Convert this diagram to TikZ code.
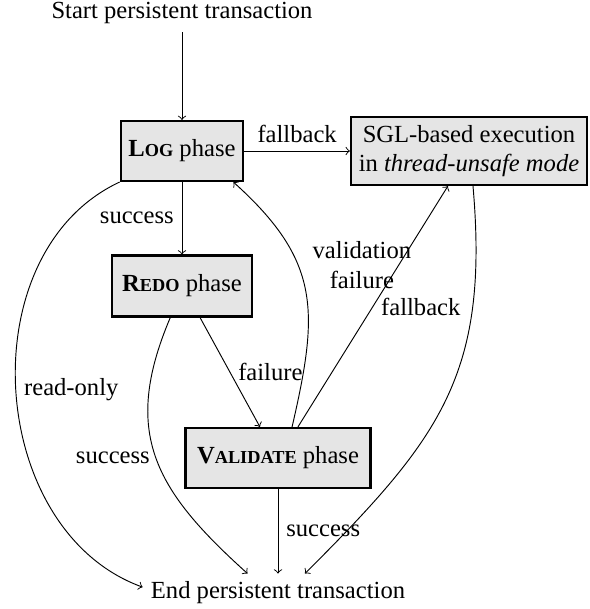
\documentclass[tikz,border=0pt]{standalone}
\usepackage{fontspec}
\setmainfont{Liberation Serif}
\usetikzlibrary{arrows}
\newcommand{\phasename}[2]{\textbf{#1{\fontsize{7.8pt}{9pt}\selectfont #2}}}

\begin{document}
\begin{tikzpicture}[x=0.015cm, y=-0.015cm, >=to, font=\fontsize{10.5pt}{12.5pt}\selectfont,
                    phase/.style={draw, line width=0.9pt, fill=gray!20, align=center, minimum height=0.9cm}]
    \useasboundingbox (0,0) rectangle (589,609);

    \node (start) at (182,13) {Start persistent transaction};
    \node[phase, minimum width=1.815cm] (log) at (182,151) {\phasename{L}{OG} phase};
    \node[phase, minimum width=3.45cm, minimum height=1.02cm] (sgl) at (469,151) {SGL-based execution\\in \textit{thread-unsafe mode}};
    \node[phase, minimum width=2.1cm, minimum height=0.915cm] (redo) at (182,286) {\phasename{R}{EDO} phase};
    \node[phase, minimum width=2.775cm] (validate) at (278,458) {\phasename{V}{ALIDATE} phase};
    \node (end) at (278,593) {End persistent transaction};

    \draw[->] (start) -- (log);
    \draw[->] (log) -- node[above] {fallback} (sgl);
    \draw[->] (log) -- node[left] {success} (redo);
    \draw[->] (log.south west) to[out=205, in=160, looseness=1.05]
        node[pos=0.5, right] {read-only} ([yshift=2.5pt]end.west);
    \draw[->] ([xshift=-5pt]redo.south) to[out=247, in=138, looseness=1.2]
        node[pos=0.5, left=-1pt] {success} ([xshift=-13pt]end.north);
    \draw[->] ([xshift=7.7pt]redo.south) -- node[pos=0.5, right] {failure} ([xshift=-7.7pt]validate.north);
    \draw[->] ([xshift=6pt]validate.north) to[out=77, in=-42, looseness=1.2]
        node[pos=0.5, xshift=24pt, yshift=11pt, align=center] {validation\\failure} ([xshift=-4.7pt]log.south east);
    \draw[->] ([xshift=8.5pt]validate.north) -- node[pos=0.5, right] {fallback} ([xshift=-9pt]sgl.south);
    \draw[->] ([xshift=1.7pt]sgl.south) to[out=-85, in=45, looseness=1.15] ([xshift=11.5pt]end.north);
    \draw[->] (validate) -- node[pos=0.5, right] {success} (end);
\end{tikzpicture}
\end{document}
